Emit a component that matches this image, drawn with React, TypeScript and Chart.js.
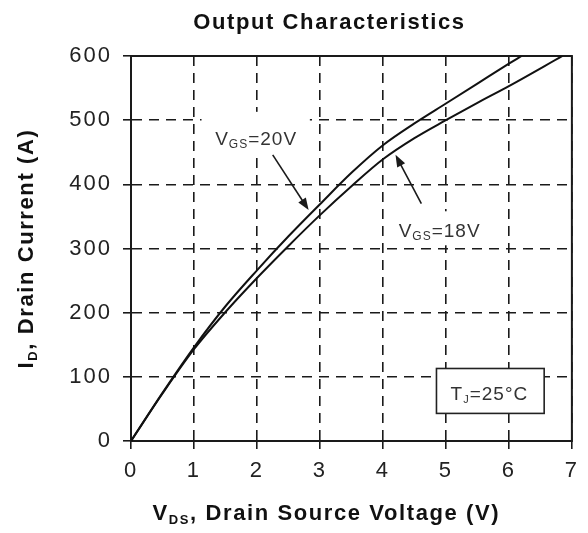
import React, { useEffect, useRef } from "react";
import { Chart, registerables } from "chart.js";

Chart.register(...registerables);

// ---- Data ----
const vgs20V = [0, 0.5, 1, 1.5, 2, 2.5, 3, 3.5, 4, 4.5, 5, 5.5, 6, 6.2];
const vgs20I = [0, 75, 146, 210, 266, 319, 369, 418, 461, 495, 526, 557, 588, 600];
const vgs18V = [0, 0.5, 1, 1.5, 2, 2.5, 3, 3.5, 4, 4.5, 5, 5.5, 6, 6.85];
const vgs18I = [0, 74, 143, 201, 254, 304, 352, 397, 439, 472, 500, 527, 553, 600];

const xTicks = [0, 1, 2, 3, 4, 5, 6, 7];
const yTicks = [0, 100, 200, 300, 400, 500, 600];

const titleText = "Output Characteristics";

// annotation anchors in data units
const label20 = { v: 1.336, i: 461, box: [1.12, 513, 2.84, 450] };
const label18 = { v: 4.25, i: 318, box: [4.15, 358, 5.6, 305] };
const arrow20 = { from: [2.25, 446], to: [2.82, 360] };
const arrow18 = { from: [4.61, 370], to: [4.2, 446] };
const tjBox = { box: [4.85, 113, 6.56, 43], cv: 5.69, ci: 64 };

const FONT = '"Liberation Sans", Arial, sans-serif';
const INK = "#1a1a1a";

type Part = { t: string; size: number; bold?: boolean; dy?: number };

function fontOf(p: Part) {
  return `${p.bold ? "bold " : ""}${p.size}px ${FONT}`;
}

function drawRich(
  ctx: CanvasRenderingContext2D,
  parts: Part[],
  x: number,
  y: number,
  align: "left" | "center"
) {
  let w = 0;
  parts.forEach((p) => {
    ctx.font = fontOf(p);
    w += ctx.measureText(p.t).width;
  });
  let cx = align === "center" ? x - w / 2 : x;
  ctx.textAlign = "left";
  ctx.textBaseline = "alphabetic";
  parts.forEach((p) => {
    ctx.font = fontOf(p);
    ctx.fillText(p.t, cx, y + (p.dy || 0));
    cx += ctx.measureText(p.t).width;
  });
}

function drawArrow(
  ctx: CanvasRenderingContext2D,
  x1: number,
  y1: number,
  x2: number,
  y2: number
) {
  const ang = Math.atan2(y2 - y1, x2 - x1);
  const len = 12;
  const hw = 4.5;
  ctx.save();
  ctx.strokeStyle = INK;
  ctx.fillStyle = INK;
  ctx.lineWidth = 1.6;
  ctx.setLineDash([]);
  ctx.beginPath();
  ctx.moveTo(x1, y1);
  ctx.lineTo(x2 - Math.cos(ang) * len * 0.8, y2 - Math.sin(ang) * len * 0.8);
  ctx.stroke();
  ctx.beginPath();
  ctx.moveTo(x2, y2);
  ctx.lineTo(
    x2 - Math.cos(ang) * len + Math.sin(ang) * hw,
    y2 - Math.sin(ang) * len - Math.cos(ang) * hw
  );
  ctx.lineTo(
    x2 - Math.cos(ang) * len - Math.sin(ang) * hw,
    y2 - Math.sin(ang) * len + Math.cos(ang) * hw
  );
  ctx.closePath();
  ctx.fill();
  ctx.restore();
}

const decorPlugin = {
  id: "decor",
  beforeUpdate(chart: any) {
    (chart.ctx as any).letterSpacing = "2px";
  },
  beforeDraw(chart: any) {
    (chart.ctx as any).letterSpacing = "2px";
  },
  beforeDatasetsDraw(chart: any) {
    const { ctx, chartArea: a, scales } = chart;
    const xs = scales.x;
    const ys = scales.y;
    ctx.save();
    // white backgrounds behind the curve labels
    ctx.fillStyle = "#ffffff";
    [label20.box, label18.box].forEach((b) => {
      const x1 = xs.getPixelForValue(b[0]);
      const y1 = ys.getPixelForValue(b[1]);
      const x2 = xs.getPixelForValue(b[2]);
      const y2 = ys.getPixelForValue(b[3]);
      ctx.fillRect(x1, y1, x2 - x1, y2 - y1);
    });
    // solid frame
    ctx.strokeStyle = INK;
    ctx.lineWidth = 2;
    ctx.setLineDash([]);
    ctx.strokeRect(a.left, a.top, a.right - a.left, a.bottom - a.top);
    ctx.restore();
  },
  afterDatasetsDraw(chart: any) {
    const { ctx, chartArea: a, scales } = chart;
    const xs = scales.x;
    const ys = scales.y;
    ctx.save();

    // T_J box
    const b = tjBox.box;
    const bx1 = xs.getPixelForValue(b[0]);
    const by1 = ys.getPixelForValue(b[1]);
    const bx2 = xs.getPixelForValue(b[2]);
    const by2 = ys.getPixelForValue(b[3]);
    ctx.fillStyle = "#ffffff";
    ctx.fillRect(bx1, by1, bx2 - bx1, by2 - by1);
    ctx.strokeStyle = "#222";
    ctx.lineWidth = 1.6;
    ctx.setLineDash([]);
    ctx.strokeRect(bx1, by1, bx2 - bx1, by2 - by1);

    ctx.fillStyle = "#333";
    (ctx as any).letterSpacing = "1px";
    drawRich(
      ctx,
      [
        { t: "T", size: 19 },
        { t: "J", size: 11, dy: 3 },
        { t: "=25°C", size: 19 },
      ],
      xs.getPixelForValue(tjBox.cv),
      ys.getPixelForValue(tjBox.ci),
      "center"
    );

    // curve labels
    drawRich(
      ctx,
      [
        { t: "V", size: 19 },
        { t: "GS", size: 12, dy: 3 },
        { t: "=20V", size: 19 },
      ],
      xs.getPixelForValue(label20.v),
      ys.getPixelForValue(label20.i),
      "left"
    );
    drawRich(
      ctx,
      [
        { t: "V", size: 19 },
        { t: "GS", size: 12, dy: 3 },
        { t: "=18V", size: 19 },
      ],
      xs.getPixelForValue(label18.v),
      ys.getPixelForValue(label18.i),
      "left"
    );

    // arrows
    [arrow20, arrow18].forEach((ar) => {
      drawArrow(
        ctx,
        xs.getPixelForValue(ar.from[0]),
        ys.getPixelForValue(ar.from[1]),
        xs.getPixelForValue(ar.to[0]),
        ys.getPixelForValue(ar.to[1])
      );
    });

    // title
    ctx.fillStyle = "#111";
    (ctx as any).letterSpacing = "1.6px";
    const cx = a.left + (a.right - a.left) * 0.45;
    drawRich(ctx, [{ t: titleText, size: 22, bold: true }], cx, 29, "center");

    // x axis title
    drawRich(
      ctx,
      [
        { t: "V", size: 22, bold: true },
        { t: "DS", size: 13, bold: true, dy: 4 },
        { t: ", Drain Source Voltage (V)", size: 22, bold: true },
      ],
      cx - 3,
      520,
      "center"
    );

    // y axis title (rotated)
    ctx.save();
    ctx.translate(33, (a.top + a.bottom) / 2);
    ctx.rotate(-Math.PI / 2);
    drawRich(
      ctx,
      [
        { t: "I", size: 22, bold: true },
        { t: "D", size: 13, bold: true, dy: 4 },
        { t: ", Drain Current (A)", size: 22, bold: true },
      ],
      0,
      0,
      "center"
    );
    ctx.restore();

    (ctx as any).letterSpacing = "2px";
    ctx.restore();
  },
};

export default function App() {
  const ref = useRef<HTMLCanvasElement | null>(null);

  useEffect(() => {
    if (!ref.current) return;
    const gridCommon = {
      color: INK,
      lineWidth: 1.6,
      drawTicks: true,
      tickLength: 8,
      tickColor: INK,
      tickWidth: 1.6,
      tickBorderDash: [],
    };
    const chart = new Chart(ref.current, {
      type: "line",
      data: {
        datasets: [
          {
            label: "VGS=20V",
            data: vgs20V.map((v, i) => ({ x: v, y: vgs20I[i] })),
            borderColor: "#111",
            borderWidth: 2,
            pointRadius: 0,
            cubicInterpolationMode: "monotone",
            fill: false,
          },
          {
            label: "VGS=18V",
            data: vgs18V.map((v, i) => ({ x: v, y: vgs18I[i] })),
            borderColor: "#111",
            borderWidth: 2,
            pointRadius: 0,
            cubicInterpolationMode: "monotone",
            fill: false,
          },
        ],
      },
      options: {
        animation: false,
        responsive: false,
        maintainAspectRatio: false,
        devicePixelRatio: 1,
        layout: { padding: { top: 56, right: 8, left: 0, bottom: 0 } },
        plugins: {
          legend: { display: false },
          title: { display: false },
          tooltip: { enabled: false },
        },
        scales: {
          x: {
            type: "linear",
            min: 0,
            max: 7,
            afterBuildTicks: (s: any) => {
              s.ticks = xTicks.map((v) => ({ value: v }));
            },
            afterFit: (s: any) => {
              s.height = 92;
            },
            ticks: {
              color: "#222",
              font: { family: FONT, size: 22 },
              padding: 9,
              maxRotation: 0,
              autoSkip: false,
            },
            grid: gridCommon,
            border: { display: true, color: INK, width: 2, dash: [10, 7] },
          },
          y: {
            type: "linear",
            min: 0,
            max: 600,
            afterBuildTicks: (s: any) => {
              s.ticks = yTicks.map((v) => ({ value: v }));
            },
            afterFit: (s: any) => {
              s.width = 131;
            },
            ticks: {
              color: "#222",
              font: { family: FONT, size: 22 },
              padding: 11,
              autoSkip: false,
            },
            grid: gridCommon,
            border: { display: true, color: INK, width: 2, dash: [10, 7] },
          },
        },
      },
      plugins: [decorPlugin],
    } as any);
    return () => chart.destroy();
  }, []);

  return (
    <div
      style={{
        position: "absolute",
        left: 0,
        top: 0,
        width: 588,
        height: 533,
        background: "#fff",
      }}
    >
      <canvas ref={ref} width={588} height={533} style={{ display: "block" }} />
    </div>
  );
}
